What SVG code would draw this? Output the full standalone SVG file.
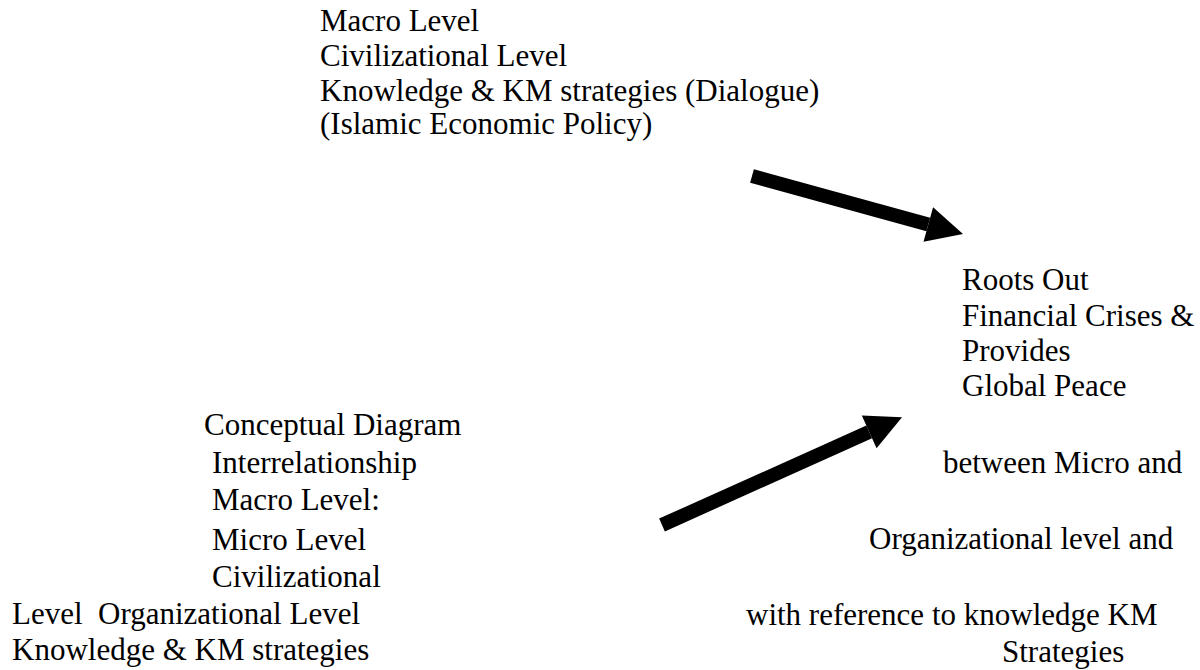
<svg xmlns="http://www.w3.org/2000/svg" width="1200" height="670" viewBox="0 0 1200 670">
<style>
text{font-family:"Liberation Serif","Times New Roman",serif;font-size:31px;fill:#000;white-space:pre}
.arrow{stroke:#000;stroke-width:14;fill:none;marker-end:url(#head)}
</style>
<defs>
<marker id="head" markerUnits="userSpaceOnUse" markerWidth="40" markerHeight="40" refX="0" refY="20" orient="auto" overflow="visible">
<path d="M0,2 L36,20 L0,38 Z" fill="#000"/>
</marker>
</defs>
<rect width="1200" height="670" fill="#fff"/>
<g id="macro">
<text x="320" y="31">Macro Level</text>
<text x="320" y="66">Civilizational Level</text>
<text x="320" y="101">Knowledge &amp; KM strategies (Dialogue)</text>
<text x="320" y="134">(Islamic Economic Policy)</text>
</g>
<g id="outcome">
<text x="962" y="290">Roots Out</text>
<text x="962" y="326">Financial Crises &amp;</text>
<text x="962" y="361">Provides</text>
<text x="962" y="396">Global Peace</text>
</g>
<g id="concept">
<text x="204" y="435">Conceptual Diagram</text>
<text x="212" y="473">Interrelationship</text>
<text x="212" y="510">Macro Level:</text>
<text x="212" y="550">Micro Level</text>
<text x="212" y="587">Civilizational</text>
<text x="12" y="624" xml:space="preserve">Level  Organizational Level</text>
<text x="12" y="660">Knowledge &amp; KM strategies</text>
</g>
<g id="caption">
<text x="943" y="473">between Micro and</text>
<text x="869" y="549">Organizational level and</text>
<text x="746" y="625">with reference to knowledge KM</text>
<text x="1002" y="662">Strategies</text>
</g>
<g id="connectors">
<line class="arrow" x1="752" y1="176" x2="928.3" y2="224.5"/>
<line class="arrow" x1="662" y1="525" x2="869.2" y2="431.9"/>
</g>
</svg>
